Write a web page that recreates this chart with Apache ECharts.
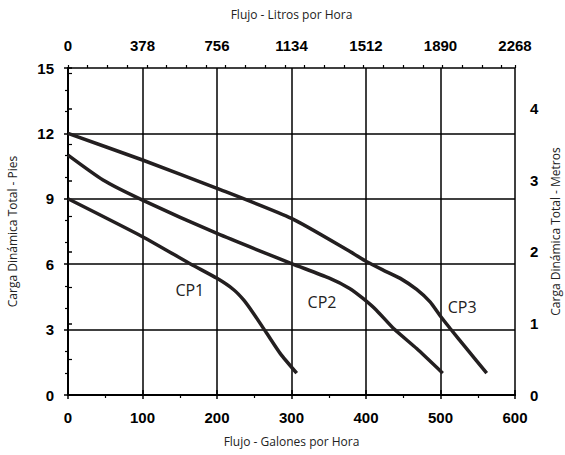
<!DOCTYPE html>
<html>
<head>
<meta charset="utf-8">
<script src="https://cdn.jsdelivr.net/npm/echarts@6/dist/echarts.min.js"></script>
<style>html,body{margin:0;padding:0;background:#fff}#c{width:565px;height:455px}</style>
</head>
<body>
<div id="c"></div>
<script>
// Data (gallons per hour, feet of head)
var cp1 = [[0,9.0],[100,7.26],[165,6.0],[200,5.35],[222,4.84],[236,4.35],[249,3.74],[267,2.82],[285,1.9],[307,1.0]];
var cp2 = [[0,11.0],[47,9.86],[100,8.94],[200,7.41],[300,6.03],[350,5.37],[378,4.89],[396,4.43],[414,3.89],[437,3.05],[468,2.13],[503,1.0]];
var cp3 = [[0,12.0],[100,10.78],[200,9.48],[300,8.1],[379,6.57],[401,6.11],[423,5.73],[446,5.35],[468,4.84],[486,4.27],[499,3.66],[513,3.05],[535,2.13],[562,1.0]];
var seriesNames = ['CP1','CP2','CP3'];
var labelAt = [[163.5,4.8],[341,4.27],[529,4.04]];
var galTicks = [0,100,200,300,400,500,600];
var literTicks = [0,378,756,1134,1512,1890,2268];
var feetTicks = [0,3,6,9,12,15];
var meterTicks = [0,1,2,3,4];

var chart = echarts.init(document.getElementById('c'), null, {renderer:'svg'});
var tickFam = 'Liberation Sans';
function tickFont(extra, filter){
  var o = {show:true, fontFamily:tickFam, fontWeight:'bold', fontSize:15, color:'#000',
           formatter:function(v){ if (filter && filter.indexOf(v)<0) return ''; return String(v);}};
  for (var k in extra) o[k]=extra[k];
  return o;
}
var nameFont = {fontFamily:'Open Sans', fontSize:12, color:'#222'};
var lineColor = '#231f20';

function mkSeries(name, data, lbl) {
  return {
    name: name, type:'line', data:data, xAxisIndex:0, yAxisIndex:0,
    smooth:0.2, symbol:'none', lineStyle:{color:lineColor,width:3.5}, z:5,
    markPoint:{symbol:'circle', symbolSize:0, silent:true,
      data:[{coord:lbl, label:{show:true, formatter:name, color:'#222',
        fontFamily:'Open Sans', fontSize:16}}]}
  };
}

chart.setOption({
  animation:false,
  backgroundColor:'#fff',
  grid:{left:68, right:50, top:68, bottom:60, containLabel:false, outerBoundsMode:'none'},
  xAxis:[
    {type:'value', position:'bottom', min:galTicks[0], max:galTicks[galTicks.length-1], interval:100,
     name:'Flujo - Galones por Hora', nameLocation:'middle', nameGap:40, nameTextStyle:nameFont,
     axisLine:{show:true, lineStyle:{color:'#000', width:2}},
     axisTick:{show:true, inside:false, length:4, lineStyle:{color:'#000', width:1.5}},
     minorTick:{show:true, splitNumber:2, length:3, lineStyle:{color:'#000', width:1.2}},
     axisLabel:tickFont({margin:15}),
     splitLine:{show:true, lineStyle:{color:'#000', width:1.5}}},
    {type:'value', position:'top', min:literTicks[0], max:literTicks[literTicks.length-1], interval:378,
     name:'Flujo - Litros por Hora', nameLocation:'middle', nameGap:48, nameTextStyle:nameFont,
     axisLine:{show:true, lineStyle:{color:'#000', width:2}},
     axisTick:{show:true, inside:false, length:5, lineStyle:{color:'#000', width:1.5}},
     axisLabel:tickFont({margin:15}),
     splitLine:{show:false}},
    {type:'value', position:'top', min:0, max:2268, interval:100,
     axisLine:{show:false},
     axisTick:{show:true, inside:false, length:3, lineStyle:{color:'#000', width:1.2}},
     axisLabel:{show:false}, splitLine:{show:false}}
  ],
  yAxis:[
    {type:'value', position:'left', min:feetTicks[0], max:feetTicks[feetTicks.length-1], interval:3,
     name:'Carga Dinámica Total - Pies', nameLocation:'middle', nameGap:50, nameRotate:90, nameTextStyle:nameFont,
     axisLine:{show:true, lineStyle:{color:'#000', width:2}},
     axisTick:{show:true, inside:false, length:4, lineStyle:{color:'#000', width:1.5}},
     minorTick:{show:true, splitNumber:3, length:3, lineStyle:{color:'#000', width:1.2}},
     axisLabel:tickFont({margin:14}),
     splitLine:{show:true, lineStyle:{color:'#000', width:1.5}}},
    {type:'value', position:'right', min:0, max:4.572, interval:1,
     name:'Carga Dinámica Total - Metros', nameLocation:'middle', nameGap:34, nameRotate:90, nameTextStyle:nameFont,
     axisLine:{show:true, lineStyle:{color:'#000', width:2}},
     axisTick:{show:true, inside:false, length:4, lineStyle:{color:'#000', width:1.5}},
     minorTick:{show:true, splitNumber:2, length:4, lineStyle:{color:'#000', width:1.2}},
     axisLabel:tickFont({margin:15, showMaxLabel:false}, meterTicks),
     splitLine:{show:false}}
  ],
  series:[
    mkSeries(seriesNames[0], cp1, labelAt[0]),
    mkSeries(seriesNames[1], cp2, labelAt[1]),
    mkSeries(seriesNames[2], cp3, labelAt[2])
  ]
});
</script>
</body>
</html>
